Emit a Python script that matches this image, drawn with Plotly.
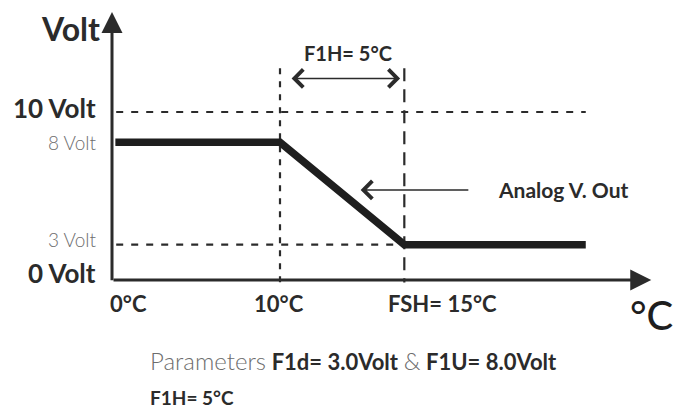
import plotly.graph_objects as go

# ---- data (schematic diagram units) ----
temp_labels = ["0°C", "10°C", "FSH= 15°C"]
temp_pos = [0, 10, 17.4]
volt_labels = ["0 Volt", "3 Volt", "8 Volt", "10 Volt"]
volt_pos = [0, 2.1, 8.2, 10]
volt_bold = [True, False, False, True]
out_x = [0.2, 10, 17.4, 28.2]
out_y = [8.2, 8.2, 2.1, 2.1]
x_axis_end = 32.1
y_axis_end = 15.95
guide_top = 12.6
f1h_arrow_y = 12.0
analog_arrow_y = 5.36
analog_arrow_x = [14.8, 21.3]

DARK = "#2b2b2b"
GRAY = "#6d6d6d"
FONT = "Lato"
U = 16.8            # pixels per diagram unit
W, H = 673, 404     # page body has an 8px margin
OX, OY = 104, 272   # origin in figure pixels

fig = go.Figure()

# dashed reference lines
fig.add_trace(go.Scatter(x=[0.25, out_x[-1]], y=[volt_pos[3]] * 2, mode="lines",
                         line=dict(color=DARK, width=2.2, dash="7px,8px"), hoverinfo="skip"))
fig.add_trace(go.Scatter(x=[0.25, temp_pos[2]], y=[volt_pos[1]] * 2, mode="lines",
                         line=dict(color=DARK, width=2.2, dash="7px,8px"), hoverinfo="skip"))
fig.add_trace(go.Scatter(x=[temp_pos[1]] * 2, y=[guide_top, -0.15], mode="lines",
                         line=dict(color=DARK, width=2.2, dash="6px,7px"), hoverinfo="skip"))
fig.add_trace(go.Scatter(x=[temp_pos[2]] * 2, y=[guide_top, -0.15], mode="lines",
                         line=dict(color=DARK, width=2.2, dash="13px,8px"), hoverinfo="skip"))

# output curve
fig.add_trace(go.Scatter(x=out_x, y=out_y, mode="lines",
                         line=dict(color="#1e1e1e", width=7.5), hoverinfo="skip"))

annotations = []
# axes with arrows
annotations.append(dict(x=x_axis_end, y=0, ax=0, ay=0, xref="x", yref="y", axref="x", ayref="y",
                        text="", showarrow=True, arrowhead=2, arrowsize=1.4, arrowwidth=3,
                        arrowcolor=DARK))
annotations.append(dict(x=0, y=y_axis_end, ax=0, ay=-0.1, xref="x", yref="y", axref="x", ayref="y",
                        text="", showarrow=True, arrowhead=2, arrowsize=1.4, arrowwidth=3,
                        arrowcolor=DARK))
# F1H double arrow
annotations.append(dict(x=temp_pos[2] - 0.25, y=f1h_arrow_y, ax=temp_pos[1] + 0.6, ay=f1h_arrow_y,
                        xref="x", yref="y", axref="x", ayref="y", text="", showarrow=True,
                        arrowhead=4, startarrowhead=4, arrowside="end+start", arrowsize=2.3,
                        startarrowsize=2.3, arrowwidth=1.5, arrowcolor=DARK))
# Analog out arrow
annotations.append(dict(x=analog_arrow_x[0], y=analog_arrow_y, ax=analog_arrow_x[1], ay=analog_arrow_y,
                        xref="x", yref="y", axref="x", ayref="y", text="", showarrow=True,
                        arrowhead=4, arrowsize=2.3, arrowwidth=1.5, arrowcolor=DARK))

# volt labels
vshift = {0: 7, 1: 5, 2: 0, 3: 4}
for i, (lab, pos, bold) in enumerate(zip(volt_labels, volt_pos, volt_bold)):
    annotations.append(dict(x=0, y=pos, xref="x", yref="y", xanchor="right", yanchor="middle",
                            xshift=-14, yshift=vshift[i], showarrow=False,
                            text=f"<b>{lab}</b>" if bold else lab,
                            font=dict(family=FONT, size=26 if bold else 19,
                                      color=DARK if bold else GRAY,
                                      weight=700 if bold else 300)))
# temperature labels
tshift = [-4, -28, -18]
for lab, pos, sh in zip(temp_labels, temp_pos, tshift):
    annotations.append(dict(x=pos, y=-1.37, xref="x", yref="y", xanchor="left", yanchor="middle",
                            xshift=sh, showarrow=False, text=f"<b>{lab}</b>",
                            font=dict(family=FONT, size=22, color=DARK)))
# titles
annotations.append(dict(x=0, y=14.95, xref="x", yref="y", xanchor="right", yanchor="middle",
                        xshift=-10, showarrow=False, text="<b>Volt</b>",
                        font=dict(family=FONT, size=32, color=DARK)))
annotations.append(dict(x=x_axis_end, y=-2.1, xref="x", yref="y", xanchor="center", yanchor="middle",
                        showarrow=False, text="°C",
                        font=dict(family=FONT, size=40, color="#1e1e1e", weight=500)))
annotations.append(dict(x=(temp_pos[1] + temp_pos[2]) / 2, y=13.5, xref="x", yref="y",
                        xanchor="center", yanchor="middle", xshift=6, showarrow=False,
                        text="<b>F1H= 5°C</b>", font=dict(family=FONT, size=20, color=DARK)))
annotations.append(dict(x=analog_arrow_x[1], y=analog_arrow_y, xref="x", yref="y",
                        xanchor="left", yanchor="middle", xshift=26, showarrow=False,
                        text="<b>Analog V. Out</b>", font=dict(family=FONT, size=21, color=DARK)))
# parameter footnote
annotations.append(dict(x=2.14, y=-4.82, xref="x", yref="y", xanchor="left", yanchor="middle",
                        showarrow=False,
                        text=("<span style='font-weight:300;font-size:24px'>Parameters</span> "
                              f"<b><span style='color:{DARK}'>F1d= 3.0Volt</span></b> "
                              "<span style='font-weight:300;font-size:24px'>&amp;</span> "
                              f"<b><span style='color:{DARK}'>F1U= 8.0Volt</span></b>"),
                        font=dict(family=FONT, size=22, color=GRAY)))
annotations.append(dict(x=2.14, y=-7.0, xref="x", yref="y", xanchor="left", yanchor="middle",
                        showarrow=False, text="<b>F1H= 5°C</b>",
                        font=dict(family=FONT, size=19, color=DARK)))

fig.update_layout(
    width=W, height=H,
    margin=dict(l=0, r=0, t=0, b=0),
    paper_bgcolor="white", plot_bgcolor="white",
    showlegend=False,
    xaxis=dict(range=[-OX / U, (W - OX) / U], visible=False, fixedrange=True),
    yaxis=dict(range=[-(H - OY) / U, OY / U], visible=False, fixedrange=True),
    annotations=annotations,
)

fig.write_html("out.html")
